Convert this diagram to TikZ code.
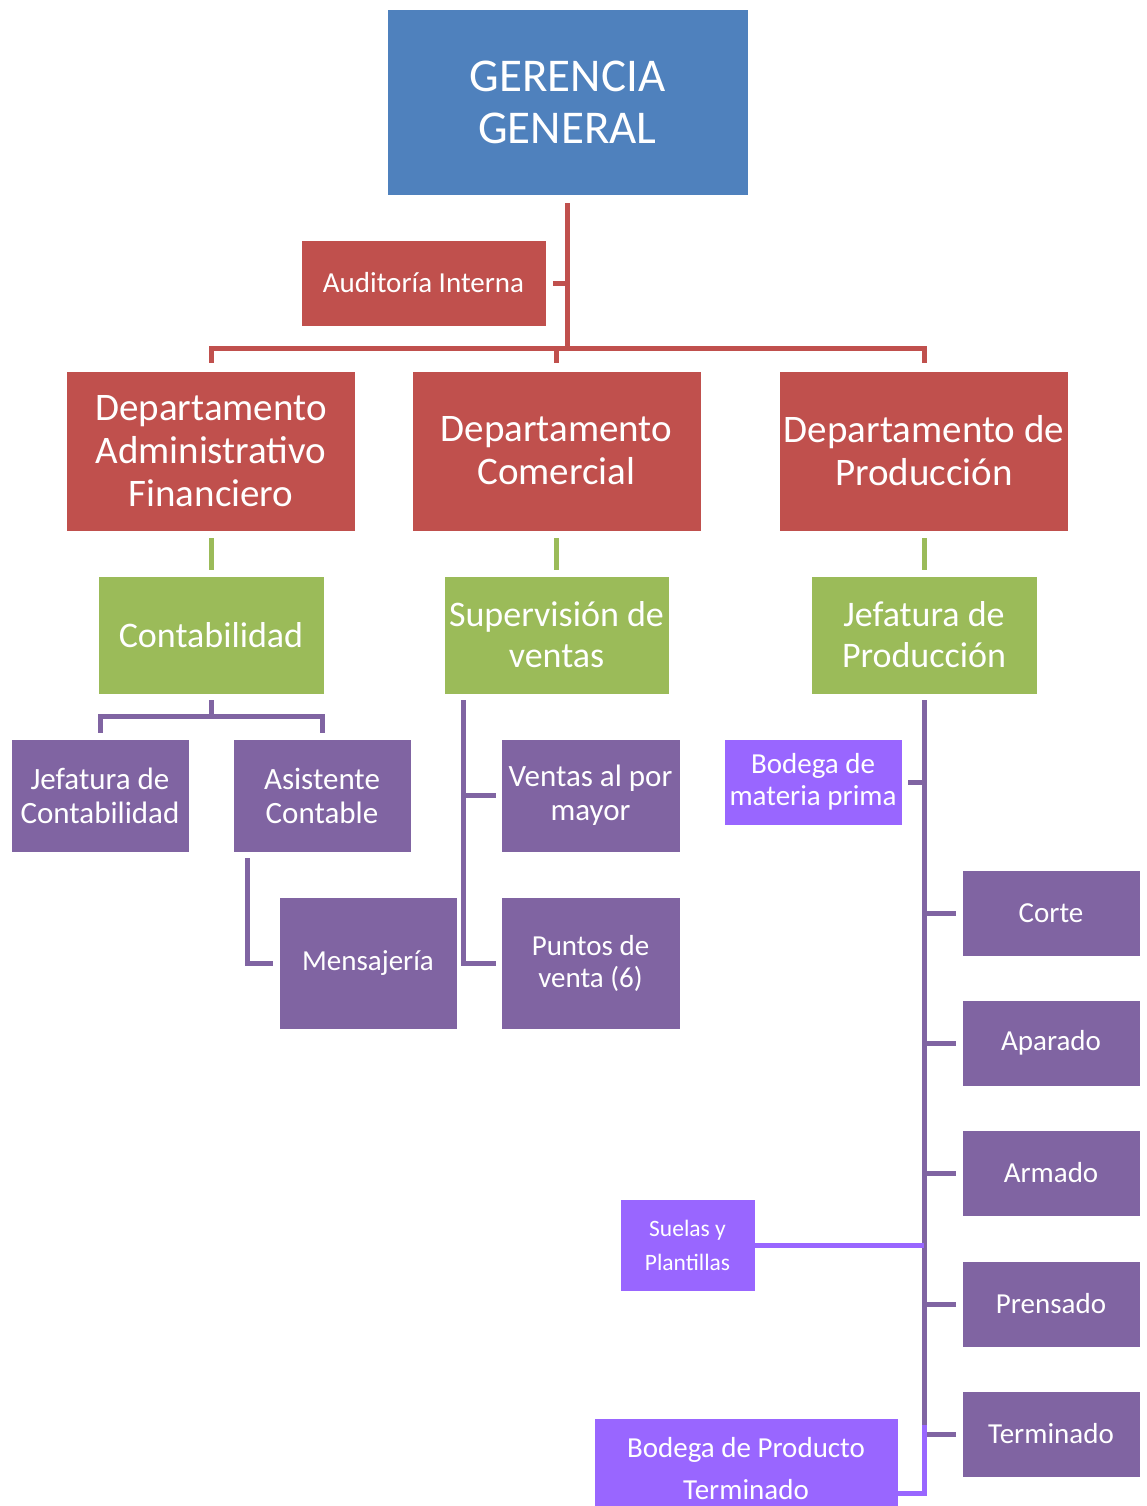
\documentclass[tikz,border=0pt]{standalone}
\usepackage{fontspec}
\setmainfont{Carlito}
\definecolor{blu}{RGB}{79,129,189}
\definecolor{rd}{RGB}{192,80,77}
\definecolor{grn}{RGB}{155,187,89}
\definecolor{pur}{RGB}{128,100,162}
\definecolor{vio}{RGB}{153,102,255}
\begin{document}
\begin{tikzpicture}[x=1pt,y=-1pt,
  box/.style={draw=white, line width=0.8pt, text=white, align=center, inner sep=0pt},
  fA/.style={font=\fontsize{47}{52}\selectfont},
  fB/.style={font=\fontsize{39}{43}\selectfont},
  fC/.style={font=\fontsize{36}{41}\selectfont},
  fD/.style={font=\fontsize{31}{34}\selectfont},
  fE/.style={font=\fontsize{29}{32}\selectfont},
  fF/.style={font=\fontsize{23.5}{34}\selectfont},
  fG/.style={font=\fontsize{29}{42}\selectfont},
  redline/.style={draw=rd, line width=5pt},
  grnline/.style={draw=grn, line width=5pt},
  purline/.style={draw=pur, line width=5pt},
  violine/.style={draw=vio, line width=5pt}]
\useasboundingbox (0,0) rectangle (1147,1506);
% top
\node[box, fill=blu, fA, minimum width=361, minimum height=186] (gg) at (567.5,102) {GERENCIA\\GENERAL};
\node[box, fill=rd, fE, minimum width=245, minimum height=86] (aud) at (423.5,283) {Auditoría Interna};
% departments
\node[box, fill=rd, fB, minimum width=289, minimum height=160] (d1) at (211,451) {Departamento\\Administrativo\\Financiero};
\node[box, fill=rd, fB, minimum width=289, minimum height=160] (d2) at (556.5,451) {Departamento\\Comercial};
\node[box, fill=rd, fB, minimum width=289, minimum height=160] (d3) at (924,451) {Departamento de\\Producción};
% green
\node[box, fill=grn, fC, minimum width=226, minimum height=118] (g1) at (211,635) {Contabilidad};
\node[box, fill=grn, fC, minimum width=225, minimum height=118] (g2) at (556.5,635) {Supervisión de\\ventas};
\node[box, fill=grn, fC, minimum width=226, minimum height=118] (g3) at (924,635) {Jefatura de\\Producción};
% purple left
\node[box, fill=pur, fD, minimum width=178, minimum height=113] (p1) at (100,795.5) {Jefatura de\\Contabilidad};
\node[box, fill=pur, fD, minimum width=178, minimum height=113] (p2) at (322,795.5) {Asistente\\Contable};
\node[box, fill=pur, fE, minimum width=178, minimum height=132] (p3) at (368,963) {Mensajería};
\node[box, fill=pur, fD, minimum width=179, minimum height=113] (p4) at (590.5,795.5) {Ventas al por\\mayor};
\node[box, fill=pur, fE, minimum width=179, minimum height=132] (p5) at (590.5,963) {Puntos de\\venta (6)};
% production
\node[box, fill=vio, fE, minimum width=178, minimum height=86] (bmp) at (813,782) {Bodega de\\materia prima};
\node[box, fill=pur, fE, minimum width=178, minimum height=86] (corte) at (1051,913) {Corte};
\node[box, fill=pur, fE, minimum width=178, minimum height=86] (apar) at (1051,1043) {Aparado};
\node[box, fill=pur, fE, minimum width=178, minimum height=86] (arm) at (1051,1173) {Armado};
\node[box, fill=pur, fE, minimum width=178, minimum height=86] (pren) at (1051,1304) {Prensado};
\node[box, fill=pur, fE, minimum width=178, minimum height=86] (term) at (1051,1434) {Terminado};
\node[box, fill=vio, fF, minimum width=135, minimum height=92] (sue) at (687.5,1245) {Suelas y\\Plantillas};
\node[box, fill=vio, fG, minimum width=304, minimum height=102] (bpt) at (746,1469) {Bodega de Producto\\Terminado};
% red connectors
\coordinate (bus) at (567.5,348);
\draw[redline] ([yshift=-8pt]gg.south) -- (gg.south |- bus);
\draw[redline] ([yshift=8pt]d1.north) -- (d1.north |- bus) -- (d3.north |- bus) -- ([yshift=8pt]d3.north);
\draw[redline] ([yshift=8pt]d2.north) -- (d2.north |- bus);
\draw[redline] ([xshift=7pt]aud.east) -- (aud.east -| gg.south);
% green connectors
\foreach \a/\b in {d1/g1,d2/g2,d3/g3}{
  \draw[grnline] ([yshift=-7pt]\a.south) -- ([yshift=6pt]\a.south |- \b.north);
}
% contabilidad
\draw[purline] ([yshift=-6pt]g1.south) -- ++(0,17);
\draw[purline] ([yshift=6pt]p1.north) -- ++(0,-16) -| ([yshift=6pt]p2.north);
\draw[purline] ([xshift=15pt,yshift=-6pt]p2.south west) |- ([xshift=-6pt]p3.west);
% ventas
\coordinate (sv) at ([xshift=20pt,yshift=-6pt]g2.south west);
\draw[purline] (sv) |- ([xshift=-5pt]p5.west);
\draw[purline] (sv |- p4.west) -- ([xshift=-5pt]p4.west);
% production
\coordinate (ptop) at ([yshift=-6pt]g3.south);
\coordinate (pbot) at (ptop |- term.west);
\draw[purline] (ptop) -- ([yshift=-3pt]pbot);
\foreach \n in {corte,apar,arm,pren,term}{
  \draw[purline] (ptop |- \n.west) -- ([xshift=-6pt]\n.west);
}
\draw[purline] ([xshift=6pt]bmp.east) -- (ptop |- bmp.east);
\draw[violine] (sue.east) -- (ptop |- sue.east);
\path (pbot) ++(0,-9) coordinate (vtop);
\draw[violine] ([yshift=-24pt]bpt.east) -| (vtop);
\end{tikzpicture}
\end{document}
